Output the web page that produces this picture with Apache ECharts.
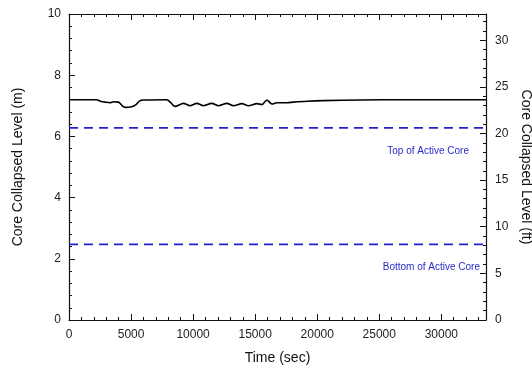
<!DOCTYPE html>
<html><head><meta charset="utf-8">
<script src="https://cdn.jsdelivr.net/npm/echarts@6/dist/echarts.min.js"></script>
<style>html,body{margin:0;padding:0;background:#fff;overflow:hidden}#c{width:532px;height:372px}</style>
</head><body><div id="c"></div>
<script>
var timeSec = [0, 2200, 2600, 2900, 3300, 3600, 3980, 4300, 4520, 5050, 5400, 5700, 6000, 7880, 8200, 8550, 9220, 9760, 10300, 10830, 11500, 12040, 12720, 13250, 13930, 14460, 15140, 15540, 15940, 16350, 16750, 17560, 18090, 19170, 20500, 23500, 27000, 33600];
var levelM = [7.2, 7.2, 7.14, 7.12, 7.1, 7.13, 7.12, 7.0, 6.95, 6.97, 7.04, 7.16, 7.19, 7.2, 7.1, 6.98, 7.08, 7.0, 7.08, 7.0, 7.08, 7.0, 7.08, 7.0, 7.07, 7.0, 7.07, 7.04, 7.19, 7.06, 7.1, 7.1, 7.12, 7.15, 7.17, 7.19, 7.2, 7.2];
var topCoreM = 6.28;
var bottomCoreM = 2.47;
var xRange = [0, 33600];
var leftRange = [0, 10];
var ftPerM = 3.2808;

var chart = echarts.init(document.getElementById('c'), null, {width: 532, height: 372});
var font = 'Liberation Sans, Arial, sans-serif';
var axisLine = {show: true, onZero: false, lineStyle: {color: '#111', width: 1.2}};
var tick = {show: true, inside: true, length: 6, lineStyle: {color: '#111', width: 1}};
var minor = {show: true, splitNumber: 5, length: 3, lineStyle: {color: '#111', width: 1}};
var lab = {color: '#222', fontSize: 12, fontFamily: font, formatter: function (v) { return String(v); }};
chart.setOption({
  animation: false,
  grid: {left: 69, right: 46, top: 14, bottom: 52, containLabel: false, outerBoundsMode: 'none'},
  xAxis: [
    {type: 'value', min: xRange[0], max: xRange[1], interval: 5000, position: 'bottom',
     name: 'Time (sec)', nameLocation: 'middle', nameGap: 31,
     nameTextStyle: {fontSize: 14, color: '#111', fontFamily: font},
     axisLine: axisLine, axisTick: tick, minorTick: minor, splitLine: {show: false},
     axisLabel: Object.assign({margin: 9, showMaxLabel: false}, lab)},
    {type: 'value', min: xRange[0], max: xRange[1], interval: 5000, position: 'top',
     axisLine: axisLine, axisTick: tick, minorTick: minor, splitLine: {show: false},
     axisLabel: {show: false}}
  ],
  yAxis: [
    {type: 'value', min: leftRange[0], max: leftRange[1], interval: 2, position: 'left',
     name: 'Core Collapsed Level (m)', nameLocation: 'middle', nameGap: 44, nameRotate: 90,
     nameTextStyle: {fontSize: 14, color: '#111', fontFamily: font},
     axisLine: axisLine, axisTick: tick, minorTick: minor, splitLine: {show: false},
     axisLabel: Object.assign({margin: 8}, lab)},
    {type: 'value', min: leftRange[0] * ftPerM, max: leftRange[1] * ftPerM, interval: 5, position: 'right',
     name: 'Core Collapsed Level (ft)', nameLocation: 'middle', nameGap: 30, nameRotate: -90,
     nameTextStyle: {fontSize: 14, color: '#111', fontFamily: font},
     axisLine: axisLine, axisTick: tick, minorTick: minor, splitLine: {show: false},
     axisLabel: Object.assign({margin: 9, showMaxLabel: false}, lab)}
  ],
  series: [
    {type: 'line', xAxisIndex: 0, yAxisIndex: 0, symbol: 'none', smooth: 0.3,
     lineStyle: {color: '#000', width: 1.6},
     data: timeSec.map(function (t, i) { return [t, levelM[i]]; })},
    {type: 'line', xAxisIndex: 0, yAxisIndex: 0, symbol: 'none',
     lineStyle: {color: '#2222cc', width: 1.8, type: [9, 6]},
     data: [[xRange[0], topCoreM], [xRange[1], topCoreM]]},
    {type: 'line', xAxisIndex: 0, yAxisIndex: 0, symbol: 'none',
     lineStyle: {color: '#2222cc', width: 1.8, type: [9, 6]},
     data: [[xRange[0], bottomCoreM], [xRange[1], bottomCoreM]]}
  ],
  graphic: [
    {type: 'text', right: 63, top: 146, style: {text: 'Top of Active Core', fill: '#2a2acc', fontSize: 10, fontFamily: font}},
    {type: 'text', right: 52, top: 262, style: {text: 'Bottom of Active Core', fill: '#2a2acc', fontSize: 10, fontFamily: font}}
  ]
});
</script></body></html>
